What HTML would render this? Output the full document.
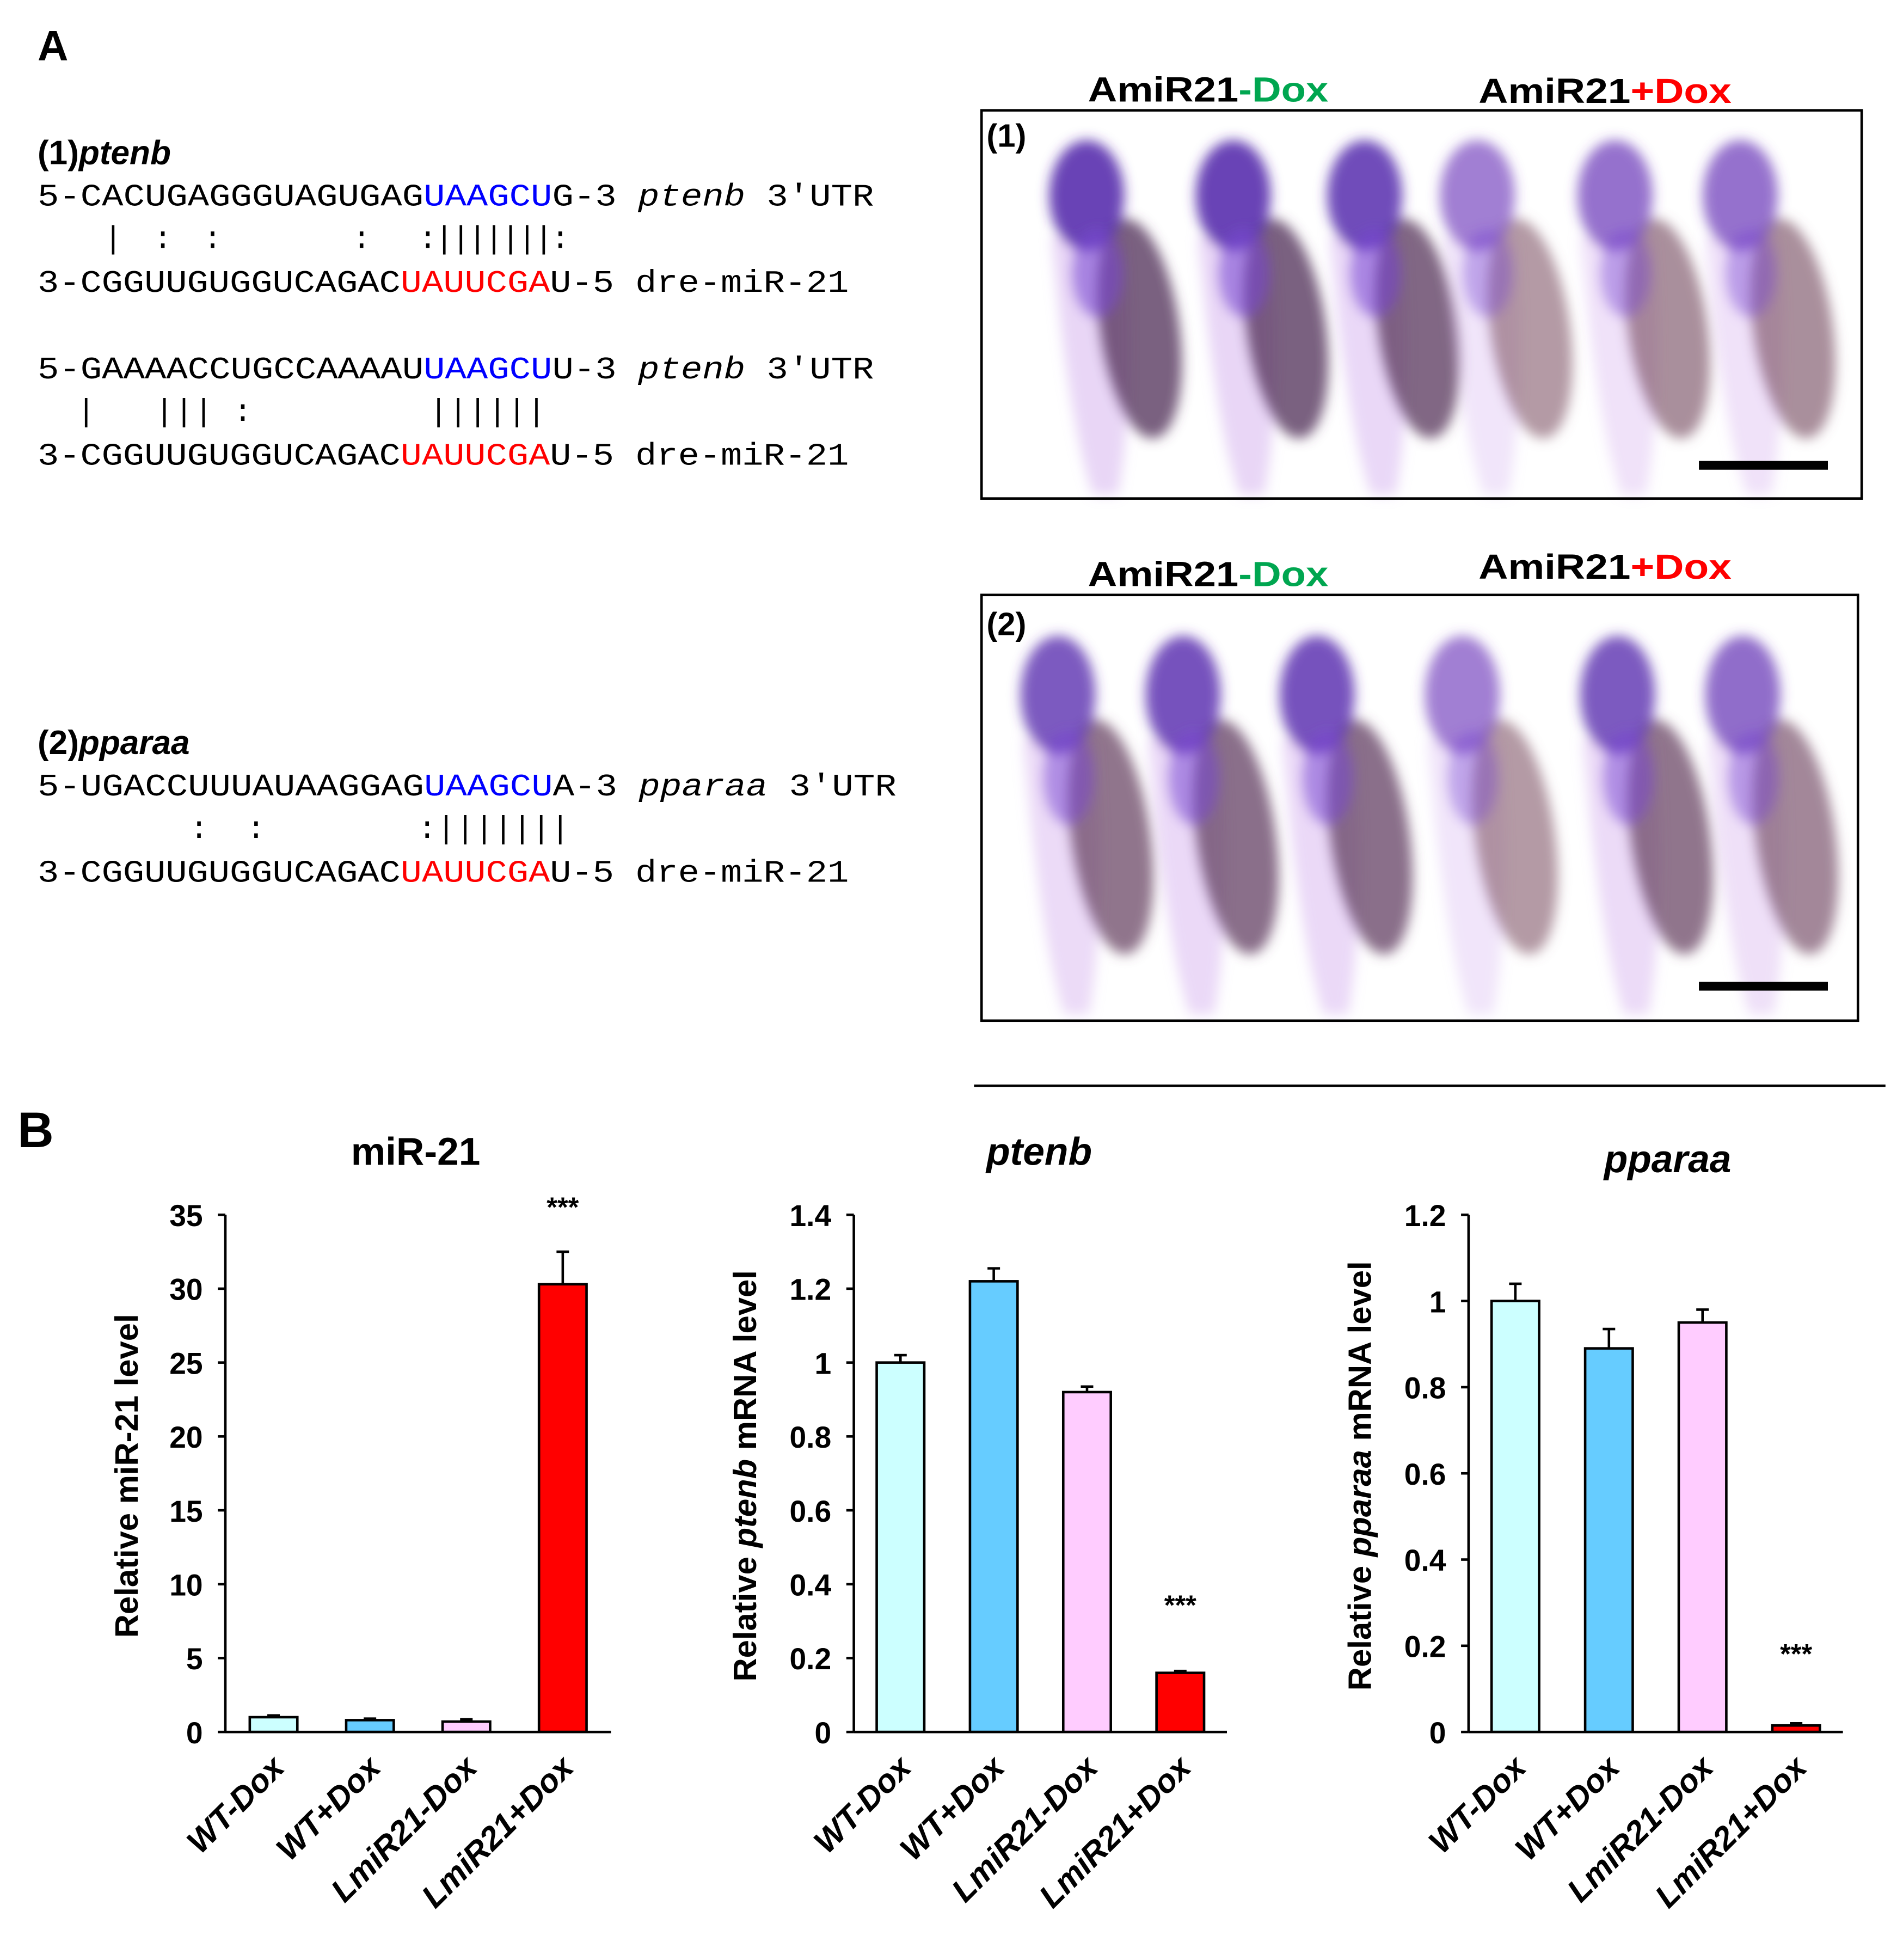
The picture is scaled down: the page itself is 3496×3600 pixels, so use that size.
<!DOCTYPE html>
<html><head><meta charset="utf-8"><style>
html,body{margin:0;padding:0;background:#fff}
svg{display:block}
.mono{font-family:"Liberation Mono",monospace;font-weight:normal}
.sans{font-family:"Liberation Sans",sans-serif}
</style></head><body>
<svg id="fig" width="3496" height="3600" viewBox="0 0 1520 1565" xmlns="http://www.w3.org/2000/svg">
<defs>
<filter id="blur" x="-30%" y="-30%" width="160%" height="160%"><feGaussianBlur stdDeviation="5"/></filter>
</defs>
<text x="30" y="48" class="sans" font-size="34" font-weight="bold">A</text>

<g>
<text x="30" y="131" class="sans" font-size="27" font-weight="bold">(1)<tspan font-style="italic">ptenb</tspan></text>
<text x="30" y="164" class="mono" font-size="25" textLength="668" lengthAdjust="spacingAndGlyphs">5-CACUGAGGGUAGUGAG<tspan fill="#0000ff">UAAGCU</tspan>G-3 <tspan font-style="italic">ptenb</tspan> 3'UTR</text>
<text x="30" y="198" class="mono" font-size="25" xml:space="preserve" textLength="425" lengthAdjust="spacing">    |  :  :        :   :|||||||:</text>
<text x="30" y="233" class="mono" font-size="25" textLength="648" lengthAdjust="spacingAndGlyphs">3-CGGUUGUGGUCAGAC<tspan fill="#ff0000">UAUUCGA</tspan>U-5 dre-miR-21</text>
<text x="30" y="302" class="mono" font-size="25" textLength="668" lengthAdjust="spacingAndGlyphs">5-GAAAACCUGCCAAAAU<tspan fill="#0000ff">UAAGCU</tspan>U-3 <tspan font-style="italic">ptenb</tspan> 3'UTR</text>
<text x="30" y="336" class="mono" font-size="25" xml:space="preserve" textLength="406" lengthAdjust="spacing">  |   ||| :         ||||||</text>
<text x="30" y="371" class="mono" font-size="25" textLength="648" lengthAdjust="spacingAndGlyphs">3-CGGUUGUGGUCAGAC<tspan fill="#ff0000">UAUUCGA</tspan>U-5 dre-miR-21</text>
</g>
<g>
<text x="30" y="602" class="sans" font-size="27" font-weight="bold">(2)<tspan font-style="italic">pparaa</tspan></text>
<text x="30" y="635" class="mono" font-size="25" textLength="686" lengthAdjust="spacingAndGlyphs">5-UGACCUUUAUAAGGAG<tspan fill="#0000ff">UAAGCU</tspan>A-3 <tspan font-style="italic">pparaa</tspan> 3'UTR</text>
<text x="30" y="669" class="mono" font-size="25" xml:space="preserve" textLength="425" lengthAdjust="spacing">        :  :        :|||||||</text>
<text x="30" y="704" class="mono" font-size="25" textLength="648" lengthAdjust="spacingAndGlyphs">3-CGGUUGUGGUCAGAC<tspan fill="#ff0000">UAUUCGA</tspan>U-5 dre-miR-21</text>
</g>

<g class="sans" font-weight="bold" font-size="28">
<text x="965" y="81" text-anchor="middle" textLength="192" lengthAdjust="spacingAndGlyphs">AmiR21<tspan fill="#00a650">-Dox</tspan></text>
<text x="1282" y="82" text-anchor="middle" textLength="202" lengthAdjust="spacingAndGlyphs">AmiR21<tspan fill="#ff0000">+Dox</tspan></text>
<text x="965" y="468" text-anchor="middle" textLength="192" lengthAdjust="spacingAndGlyphs">AmiR21<tspan fill="#00a650">-Dox</tspan></text>
<text x="1282" y="462" text-anchor="middle" textLength="202" lengthAdjust="spacingAndGlyphs">AmiR21<tspan fill="#ff0000">+Dox</tspan></text>
</g>
<g id="emb1"></g>
<g id="emb2"></g>
<rect x="784" y="88" width="703" height="310" fill="none" stroke="#000" stroke-width="2"/>
<rect x="784" y="475" width="700" height="340" fill="none" stroke="#000" stroke-width="2"/>
<text x="788" y="117" class="sans" font-size="26" font-weight="bold">(1)</text>
<text x="788" y="507" class="sans" font-size="26" font-weight="bold">(2)</text>
<rect x="1357" y="368" width="103" height="7" fill="#000"/>
<rect x="1357" y="784" width="103" height="7" fill="#000"/>
<line x1="778" y1="867" x2="1506" y2="867" stroke="#000" stroke-width="2"/>
<text x="14" y="916" class="sans" font-size="40" font-weight="bold">B</text>
<g id="charts"></g>
</svg>
<script>
const NS="http://www.w3.org/2000/svg";
function mk(tag,attrs,parent){const e=document.createElementNS(NS,tag);for(const k in attrs)e.setAttribute(k,attrs[k]);parent.appendChild(e);return e;}

// embryo drawings (illustrative)
const emb1X=[868,985,1090,1180,1290,1390];
const emb1Dark=[0.95,0.95,0.9,0.5,0.6,0.6];
const emb2X=[845,945,1052,1168,1292,1392];
const emb2Dark=[0.8,0.85,0.85,0.5,0.8,0.65];
function drawEmb(g,xs,dk,top,h){
  xs.forEach((x,i)=>{
    const d=dk[i];
    const gg=mk('g',{filter:'url(#blur)'},g);
    
    
    mk('path',{d:`M${x-28} ${top+h*0.3} Q${x-15} ${top+h*0.8} ${x+5} ${top+h} L${x+25} ${top+h} Q${x+40} ${top+h*0.7} ${x+30} ${top+h*0.3} Z`,fill:`rgba(205,160,235,${0.35*d+0.1})`},gg);
    mk('ellipse',{cx:x+42,cy:top+h*0.55,rx:32,ry:h*0.3,transform:`rotate(-8 ${x+42} ${top+h*0.55})`,fill:`rgba(${Math.round(190-100*d)},${Math.round(140-80*d)},${Math.round(130-30*d)},${0.45+0.4*d})`},gg);
    mk('ellipse',{cx:x,cy:top+h*0.19,rx:30,ry:h*0.15,fill:`rgba(${Math.round(150-70*d)},${Math.round(90-50*d)},${Math.round(210-40*d)},${0.45+0.45*d})`},gg);
    mk('ellipse',{cx:x+8,cy:top+h*0.4,rx:20,ry:h*0.12,fill:`rgba(120,70,210,${0.2+0.4*d})`},gg);
  });
}
drawEmb(document.getElementById('emb1'),emb1X,emb1Dark,100,295);
drawEmb(document.getElementById('emb2'),emb2X,emb2Dark,495,315);

// chart data
const categories=["WT-Dox","WT+Dox","LmiR21-Dox","LmiR21+Dox"];
const barColors=["#ccffff","#66ccff","#ffccff","#ff0000"];
const mir21Values=[1.0,0.8,0.7,30.3];
const mir21Errors=[0.12,0.1,0.15,2.2];
const mir21Ticks=[0,5,10,15,20,25,30,35];
const ptenbValues=[1.0,1.22,0.92,0.16];
const ptenbErrors=[0.02,0.035,0.015,0.005];
const ptenbTicks=[0,0.2,0.4,0.6,0.8,1,1.2,1.4];
const pparaaValues=[1.0,0.89,0.95,0.015];
const pparaaErrors=[0.04,0.045,0.03,0.005];
const pparaaTicks=[0,0.2,0.4,0.6,0.8,1,1.2];

const charts=[
 {name:'mir21',title:'miR-21',italic:false,titleX:332,titleY:930,ax:180,axEnd:488,ymax:35,ticks:mir21Ticks,vals:mir21Values,errs:mir21Errors,ytitle:['Relative miR-21 level'],ytx:110,starOff:28},
 {name:'ptenb',title:'ptenb',italic:true,titleX:830,titleY:930,ax:682,axEnd:980,ymax:1.4,ticks:ptenbTicks,vals:ptenbValues,errs:ptenbErrors,ytitle:['Relative ','ptenb',' mRNA level'],ytx:604,starOff:45},
 {name:'pparaa',title:'pparaa',italic:true,titleX:1332,titleY:936,ax:1173,axEnd:1472,ymax:1.2,ticks:pparaaTicks,vals:pparaaValues,errs:pparaaErrors,ytitle:['Relative ','pparaa',' mRNA level'],ytx:1095,starOff:48}
];
const yTop=970,yBot=1383;
const root=document.getElementById('charts');
charts.forEach(c=>{
  const g=mk('g',{},root);
  
  
  const y=v=>yBot-(v/c.ymax)*(yBot-yTop);
  const step=(c.axEnd-c.ax)/categories.length;
  const x=i=>c.ax+step*(i+0.5);
  const t=mk('text',{x:c.titleX,y:c.titleY,'text-anchor':'middle','font-family':'Liberation Sans, sans-serif','font-weight':'bold','font-size':31,'font-style':c.italic?'italic':'normal'},g);
  t.textContent=c.title;
  
  
  const yt=mk('text',{x:0,y:0,transform:`translate(${c.ytx},${(yTop+yBot)/2+2}) rotate(-90)`,'text-anchor':'middle','font-family':'Liberation Sans, sans-serif','font-weight':'bold','font-size':26},g);
  c.ytitle.forEach((s,k)=>{const ts=mk('tspan',{},yt);if(k===1)ts.setAttribute('font-style','italic');ts.textContent=s;});
  
  
  c.vals.forEach((v,i)=>{
    const bw=38;
    const b=mk('rect',{x:x(i)-bw/2,y:y(v),width:bw,height:yBot-y(v),fill:barColors[i],stroke:'#000','stroke-width':2},g);
    
    
    const e=mk('path',{d:`M${x(i)} ${y(v)} V${y(v+c.errs[i])} M${x(i)-5} ${y(v+c.errs[i])} H${x(i)+5}`,stroke:'#000','stroke-width':2,fill:'none'},g);
    
    
    const lb=mk('text',{x:0,y:0,transform:`translate(${x(i)+10},${yBot+30}) rotate(-45)`,'text-anchor':'end','font-family':'Liberation Sans, sans-serif','font-weight':'bold','font-style':'italic','font-size':26},g);
    lb.textContent=categories[i];
    
    
  });
  const last=c.vals.length-1;
  const st=mk('text',{x:x(last),y:y(c.vals[last]+c.errs[last])-c.starOff,'text-anchor':'middle','font-family':'Liberation Sans, sans-serif','font-weight':'bold','font-size':22},g);
  st.textContent='***';
  
  
  const ya=mk('line',{x1:c.ax,y1:yTop,x2:c.ax,y2:yBot,stroke:'#000','stroke-width':2},g);
  
  
  const xa=mk('line',{x1:c.ax,y1:yBot,x2:c.axEnd,y2:yBot,stroke:'#000','stroke-width':2},g);
  
  
  c.ticks.forEach(tv=>{
    mk('line',{x1:c.ax-6,y1:y(tv),x2:c.ax,y2:y(tv),stroke:'#000','stroke-width':2},g);
    const tl=mk('text',{x:c.ax-18,y:y(tv)+9,'text-anchor':'end','font-family':'Liberation Sans, sans-serif','font-weight':'bold','font-size':24},g);
    tl.textContent=String(tv);
    
    
  });
});
</script>
</body></html>
